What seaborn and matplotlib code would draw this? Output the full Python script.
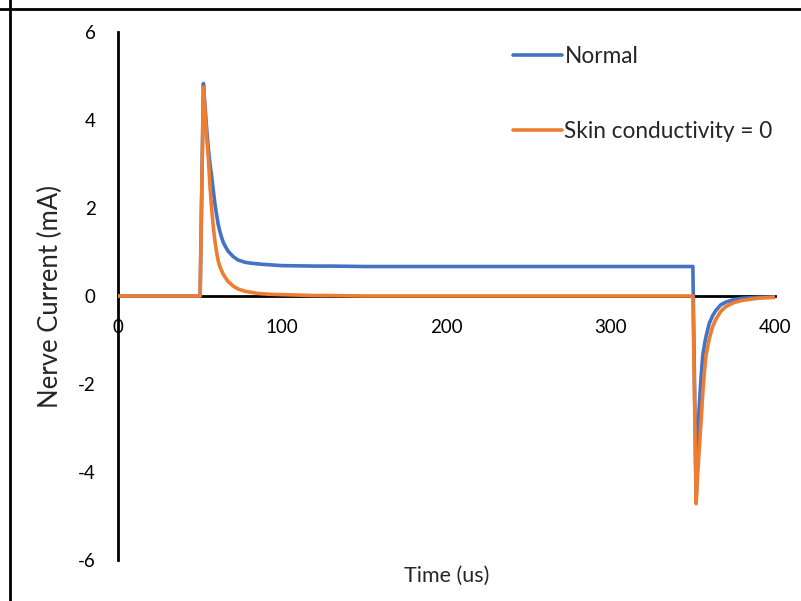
import matplotlib
matplotlib.use("Agg")
import pandas as pd
import matplotlib.pyplot as plt
import seaborn as sns
from matplotlib.lines import Line2D

# time points (us) shared by both series
time_us = [0, 50, 52, 53, 54, 55, 56, 57, 58, 59, 60, 61, 62, 63, 64, 65, 67, 70,
           73, 77, 80, 85, 88, 92, 100, 120, 130, 150, 200, 250, 300, 350,
           352, 353, 354, 355, 356, 357, 358, 360, 362, 364, 367, 370, 375, 380, 390, 400]

normal_ma = [0, 0, 4.83, 4.3, 3.8, 3.35, 3.0, 2.72, 2.4, 2.1, 1.85, 1.63, 1.47, 1.34, 1.23, 1.15, 1.02, 0.9,
             0.82, 0.77, 0.75, 0.73, 0.72, 0.71, 0.69, 0.68, 0.68, 0.67, 0.67, 0.67, 0.67, 0.67,
             -4.65, -3.1, -2.45, -1.85, -1.35, -1.12, -0.92, -0.62, -0.45, -0.33, -0.2, -0.14, -0.08, -0.05, -0.03, -0.02]

skin0_ma = [0, 0, 4.75, 4.2, 3.6, 3.13, 2.5, 1.99, 1.58, 1.25, 1.0, 0.8, 0.67, 0.58, 0.5, 0.44, 0.33, 0.23,
            0.16, 0.11, 0.09, 0.06, 0.05, 0.04, 0.03, 0.01, 0.01, 0, 0, 0, 0, 0,
            -4.72, -4.0, -3.4, -2.85, -2.22, -1.73, -1.35, -0.97, -0.7, -0.53, -0.35, -0.24, -0.15, -0.1, -0.05, -0.03]

series_names = ["Normal", "Skin conductivity = 0"]
series_colors = ["#4472C4", "#ED7D31"]

df = pd.concat([
    pd.DataFrame({"Time": time_us, "Current": normal_ma, "Series": series_names[0]}),
    pd.DataFrame({"Time": time_us, "Current": skin0_ma, "Series": series_names[1]}),
])

sns.set_theme(style="white")
plt.rcParams["font.family"] = ["Lato", "DejaVu Sans"]
plt.rcParams["axes.unicode_minus"] = False

fig = plt.figure(figsize=(8.01, 6.01), dpi=100)
ax = fig.add_axes([118 / 801, 1 - 560 / 601, 657 / 801, 528 / 601])

sns.lineplot(data=df, x="Time", y="Current", hue="Series", palette=series_colors,
             estimator=None, sort=False, linewidth=2.6, zorder=3, ax=ax)

ax.set_xlim(0, 400)
ax.set_ylim(-6, 6)
ax.set_xticks([0, 100, 200, 300, 400])
ax.set_yticks([-6, -4, -2, 0, 2, 4, 6])

for side in ["top", "right"]:
    ax.spines[side].set_visible(False)
ax.spines["left"].set_position(("data", 0))
ax.spines["bottom"].set_position(("data", 0))
for side in ["left", "bottom"]:
    ax.spines[side].set_linewidth(2.0)
    ax.spines[side].set_color("black")

ax.tick_params(axis="both", direction="out", length=4.5, width=1.8, color="black",
               labelsize=13.5, labelcolor="black")
ax.tick_params(axis="y", pad=11.5)
ax.tick_params(axis="x", pad=12)

ax.set_ylabel("Nerve Current (mA)", fontsize=18.5)
ax.yaxis.set_label_coords(-0.084, 0.5)
ax.set_xlabel("Time (us)", fontsize=15.5)
ax.xaxis.set_label_coords(0.5, -0.012)

handles, labels = ax.get_legend_handles_labels()
ax.legend(handles, labels, loc="upper left", bbox_to_anchor=(513 / 801, 1 - 46 / 601),
          bbox_transform=fig.transFigure, frameon=False, fontsize=16.3,
          borderpad=0, borderaxespad=0, handlelength=2.15, handletextpad=0.12,
          labelspacing=2.4)

# outer frame (left and top edges only)
fig.add_artist(Line2D([0, 1], [1 - 9 / 601] * 2, transform=fig.transFigure, color="black", lw=2.0))
fig.add_artist(Line2D([10 / 801] * 2, [0, 1], transform=fig.transFigure, color="black", lw=2.0))

fig.savefig("out.png", dpi=100, facecolor="white")
